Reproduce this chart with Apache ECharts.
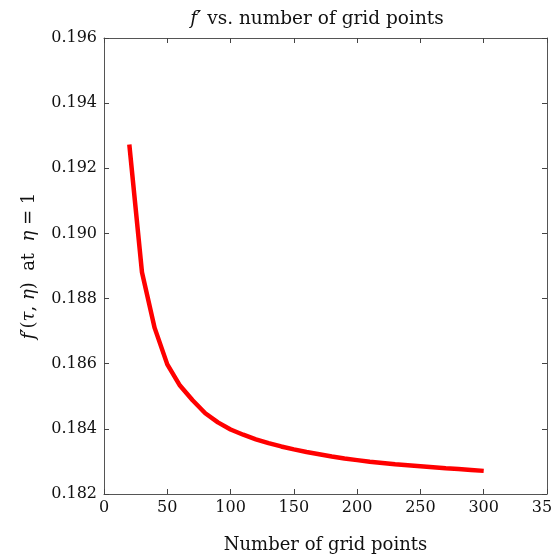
<!DOCTYPE html>
<html>
<head>
<meta charset="utf-8">
<script src="https://cdn.jsdelivr.net/npm/echarts@6/dist/echarts.min.js"></script>
<style>html,body{margin:0;padding:0;background:#fff}#c{width:553px;height:554px}</style>
</head>
<body>
<div id="c"></div>
<script>
const gridPoints = [20,30,40,50,60,70,80,90,100,110,120,130,140,150,160,170,180,190,200,210,220,230,240,250,260,270,280,290,300];
const fPrime = [0.19273,0.18881,0.18710,0.18598,0.18533,0.18488,0.18448,0.18420,0.18398,0.18382,0.18368,0.18356,0.18346,0.18337,0.18329,0.18322,0.18315,0.18309,0.18304,0.18299,0.18295,0.18291,0.18288,0.18285,0.18282,0.18279,0.18277,0.18274,0.18271];
const xTicks = {min: 0, max: 350, interval: 50};
const yTicks = {min: 0.182, max: 0.196, interval: 0.002};

const FONT = '"DejaVu Serif", "Liberation Serif", serif';
const chart = echarts.init(document.getElementById('c'), null, {renderer: 'canvas'});
const mkLine = () => ({show: true, onZero: false, lineStyle: {color: '#555', width: 1}});
const mkTick = () => ({show: true, inside: true, length: 5, lineStyle: {color: '#444', width: 1}});
chart.setOption({
  backgroundColor: '#fff',
  animation: false,
  title: {
    text: '{i|f′} vs. number of grid points',
    left: 312, top: 5, textAlign: 'center',
    textStyle: {
      fontFamily: FONT, fontSize: 18.5, fontWeight: 'normal', color: '#111',
      rich: {i: {fontFamily: FONT, fontStyle: 'italic', fontSize: 18.5, color: '#111'}}
    }
  },
  grid: {left: 104, right: 6, top: 38, bottom: 60, containLabel: false, outerBoundsMode: 'none'},
  xAxis: [{
    type: 'value', min: xTicks.min, max: xTicks.max, interval: xTicks.interval,
    position: 'bottom',
    name: 'Number of grid points', nameLocation: 'middle', nameGap: 42,
    nameTextStyle: {fontFamily: FONT, fontSize: 18, color: '#111'},
    axisLine: mkLine(), axisTick: mkTick(), splitLine: {show: false},
    axisLabel: {fontFamily: FONT, fontSize: 16, color: '#111', margin: 6}
  }, {
    type: 'value', min: xTicks.min, max: xTicks.max, interval: xTicks.interval,
    position: 'top', axisLine: mkLine(), axisTick: mkTick(), splitLine: {show: false},
    axisLabel: {show: false}
  }],
  yAxis: [{
    type: 'value', min: yTicks.min, max: yTicks.max, interval: yTicks.interval,
    position: 'left',
    name: '{i|f′}({i|τ}, {i|η})  at  {i|η} = 1', nameLocation: 'middle', nameGap: 66, nameRotate: 90,
    nameTextStyle: {fontFamily: FONT, fontSize: 18, color: '#111',
      rich: {i: {fontFamily: FONT, fontStyle: 'italic', fontSize: 18, color: '#111'}}},
    axisLine: mkLine(), axisTick: mkTick(), splitLine: {show: false},
    axisLabel: {fontFamily: FONT, fontSize: 16, color: '#111', margin: 7,
      formatter: v => v.toFixed(3)}
  }, {
    type: 'value', min: yTicks.min, max: yTicks.max, interval: yTicks.interval,
    position: 'right', axisLine: mkLine(), axisTick: mkTick(), splitLine: {show: false},
    axisLabel: {show: false}
  }],
  series: [{
    type: 'line',
    data: gridPoints.map((x, i) => [x, fPrime[i]]),
    showSymbol: false, symbol: 'none',
    lineStyle: {color: '#ff0000', width: 4.5},
    xAxisIndex: 0, yAxisIndex: 0
  }]
});
</script>
</body>
</html>
